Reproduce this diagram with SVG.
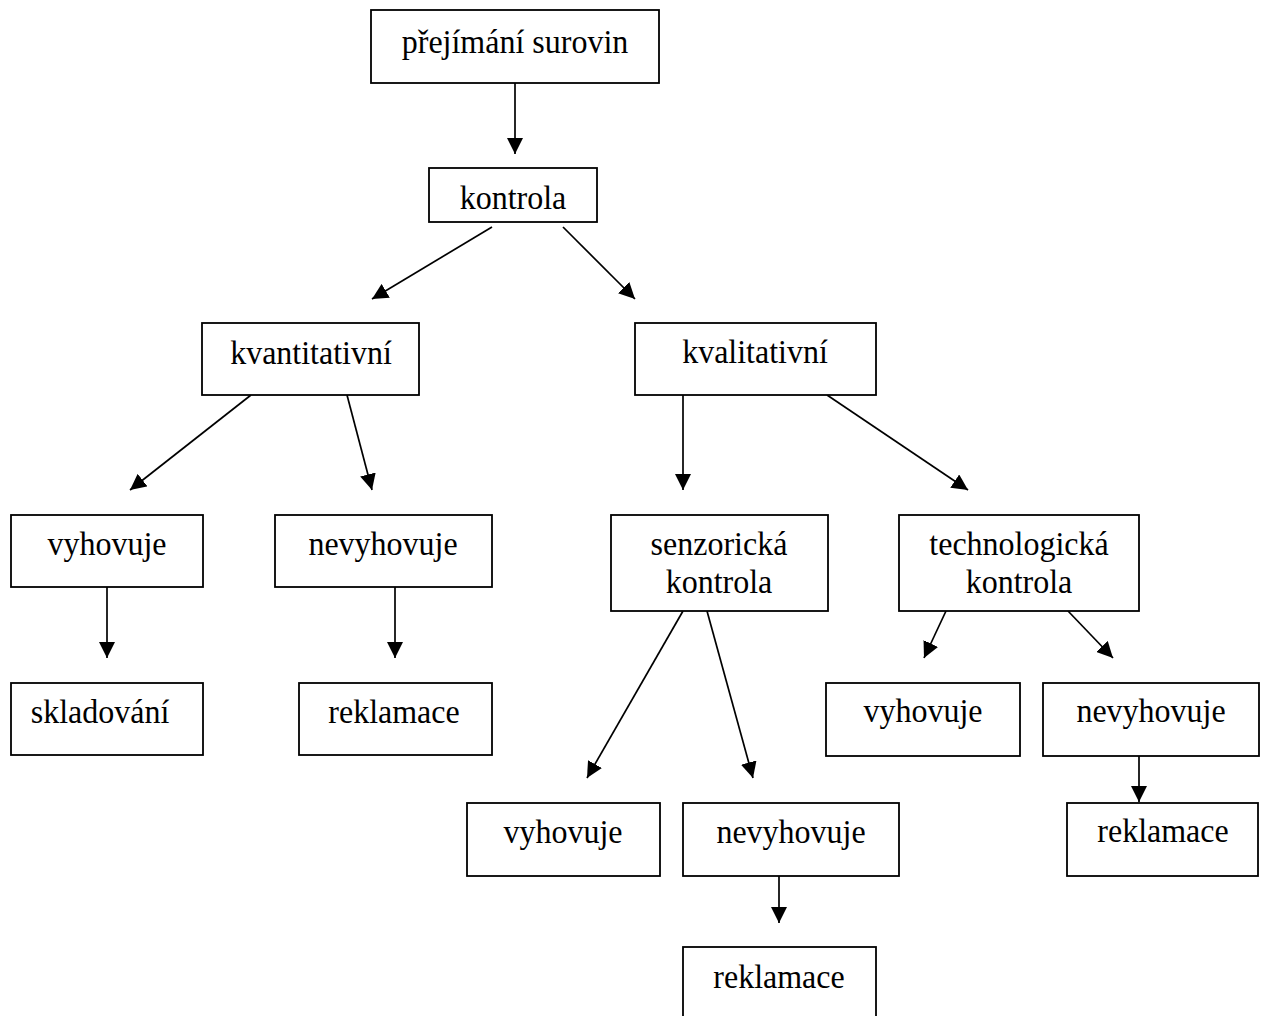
<svg xmlns="http://www.w3.org/2000/svg" width="1267" height="1016" viewBox="0 0 1267 1016">
  <style>
    .box { fill: #ffffff; stroke: #000000; stroke-width: 1.8; }
    .lbl { font-family: "Liberation Serif", "Times New Roman", serif; font-size: 32px; fill: #000000; text-anchor: middle; }
    .edge { stroke: #000000; stroke-width: 1.7; fill: none; marker-end: url(#arrow); }
  </style>
  <defs>
    <marker id="arrow" markerUnits="userSpaceOnUse" markerWidth="16" markerHeight="16" viewBox="0 0 16 16" refX="16" refY="8" orient="auto">
      <path d="M0,0 L16,8 L0,16 Z" fill="#000000"/>
    </marker>
  </defs>
  <rect width="1267" height="1016" fill="#ffffff"/>

  <g id="connectors">
    <line class="edge" x1="515" y1="83" x2="515" y2="154"/>
    <line class="edge" x1="492" y1="227" x2="372" y2="299"/>
    <line class="edge" x1="563" y1="227" x2="635" y2="299"/>
    <line class="edge" x1="251" y1="395" x2="130" y2="490"/>
    <line class="edge" x1="347" y1="395" x2="372" y2="490"/>
    <line class="edge" x1="683" y1="395" x2="683" y2="490"/>
    <line class="edge" x1="827" y1="395" x2="968" y2="490"/>
    <line class="edge" x1="107" y1="587" x2="107" y2="658"/>
    <line class="edge" x1="395" y1="587" x2="395" y2="658"/>
    <line class="edge" x1="683" y1="611" x2="587" y2="778"/>
    <line class="edge" x1="707" y1="611" x2="753" y2="778"/>
    <line class="edge" x1="946" y1="611" x2="924" y2="658"/>
    <line class="edge" x1="1068" y1="611" x2="1113" y2="658"/>
    <line class="edge" x1="1139" y1="756" x2="1139" y2="802"/>
    <line class="edge" x1="779" y1="876" x2="779" y2="923"/>
  </g>

  <!-- labels are set slightly tall: scale(1,1.07) about each baseline -->
  <g id="prejimani">
    <rect class="box" x="371" y="10" width="288" height="73"/>
    <text class="lbl" transform="translate(515,53) scale(1,1.07)">přejímání surovin</text>
  </g>
  <g id="kontrola">
    <rect class="box" x="429" y="168" width="168" height="54"/>
    <text class="lbl" transform="translate(513,209) scale(1,1.07)">kontrola</text>
  </g>
  <g id="kvantitativni">
    <rect class="box" x="202" y="323" width="217" height="72"/>
    <text class="lbl" transform="translate(311,364) scale(1,1.07)">kvantitativní</text>
  </g>
  <g id="kvalitativni">
    <rect class="box" x="635" y="323" width="241" height="72"/>
    <text class="lbl" transform="translate(755,363) scale(1,1.07)">kvalitativní</text>
  </g>
  <g id="kvant-vyhovuje">
    <rect class="box" x="11" y="515" width="192" height="72"/>
    <text class="lbl" transform="translate(107,555) scale(1,1.07)">vyhovuje</text>
  </g>
  <g id="kvant-nevyhovuje">
    <rect class="box" x="275" y="515" width="217" height="72"/>
    <text class="lbl" transform="translate(383,555) scale(1,1.07)">nevyhovuje</text>
  </g>
  <g id="skladovani">
    <rect class="box" x="11" y="683" width="192" height="72"/>
    <text class="lbl" transform="translate(100,723) scale(1,1.07)">skladování</text>
  </g>
  <g id="kvant-reklamace">
    <rect class="box" x="299" y="683" width="193" height="72"/>
    <text class="lbl" transform="translate(394,723) scale(1,1.07)">reklamace</text>
  </g>
  <g id="senzoricka">
    <rect class="box" x="611" y="515" width="217" height="96"/>
    <text class="lbl" transform="translate(719,555) scale(1,1.07)">senzorická</text>
    <text class="lbl" transform="translate(719,593) scale(1,1.07)">kontrola</text>
  </g>
  <g id="technologicka">
    <rect class="box" x="899" y="515" width="240" height="96"/>
    <text class="lbl" transform="translate(1019,555) scale(1,1.07)">technologická</text>
    <text class="lbl" transform="translate(1019,593) scale(1,1.07)">kontrola</text>
  </g>
  <g id="tech-vyhovuje">
    <rect class="box" x="826" y="683" width="194" height="73"/>
    <text class="lbl" transform="translate(923,722) scale(1,1.07)">vyhovuje</text>
  </g>
  <g id="tech-nevyhovuje">
    <rect class="box" x="1043" y="683" width="216" height="73"/>
    <text class="lbl" transform="translate(1151,722) scale(1,1.07)">nevyhovuje</text>
  </g>
  <g id="tech-reklamace">
    <rect class="box" x="1067" y="803" width="191" height="73"/>
    <text class="lbl" transform="translate(1163,842) scale(1,1.07)">reklamace</text>
  </g>
  <g id="senz-vyhovuje">
    <rect class="box" x="467" y="803" width="193" height="73"/>
    <text class="lbl" transform="translate(563,843) scale(1,1.07)">vyhovuje</text>
  </g>
  <g id="senz-nevyhovuje">
    <rect class="box" x="683" y="803" width="216" height="73"/>
    <text class="lbl" transform="translate(791,843) scale(1,1.07)">nevyhovuje</text>
  </g>
  <g id="senz-reklamace">
    <rect class="box" x="683" y="947" width="193" height="80"/>
    <text class="lbl" transform="translate(779,988) scale(1,1.07)">reklamace</text>
  </g>
</svg>
